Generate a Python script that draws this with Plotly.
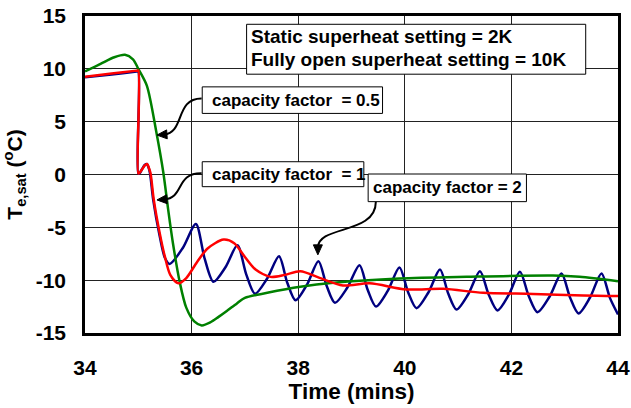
import plotly.graph_objects as go

# ---------------- data ----------------
t_cf2 = [34.0, 34.5, 34.97, 35.0, 35.0, 35.03, 35.08, 35.12, 35.16, 35.19, 35.22, 35.28, 35.4, 35.5,
         35.59, 35.835, 36.08, 36.245, 36.41, 36.635, 36.86, 37.025, 37.19,
         37.415, 37.64, 37.795, 37.95, 38.165, 38.38, 38.535, 38.69, 38.92,
         39.15, 39.305, 39.46, 39.68, 39.90, 40.06, 40.22, 40.44, 40.66,
         40.815, 40.97, 41.19, 41.41, 41.575, 41.74, 41.95, 42.16, 42.325,
         42.49, 42.715, 42.94, 43.10, 43.26, 43.475, 43.69, 43.85, 44.0]
v_cf2 = [9.2, 9.47, 9.74, 9.75, 0.1, 0.15, 0.6, 0.9, 1.0, 0.7, 0.1, -2.4, -5.8, -7.9,
         -8.46, -6.95, -4.69, -7.97, -10.16, -8.78, -6.70, -9.45, -11.29,
         -9.87, -7.74, -10.24, -11.90, -10.42, -8.20, -10.56, -12.14, -10.72,
         -8.60, -10.94, -12.50, -11.02, -8.80, -11.11, -12.65, -11.19, -9.00,
         -11.27, -12.78, -11.33, -9.15, -11.38, -12.87, -11.40, -9.20, -11.50,
         -13.03, -11.57, -9.37, -11.64, -13.15, -11.64, -9.37, -11.70, -13.25]

t_cf05 = [34.0, 34.3, 34.55, 34.75, 34.9, 35.0, 35.16, 35.34, 35.47, 35.56,
          35.65, 35.78, 35.9, 36.05, 36.19, 36.35, 36.5, 36.66, 36.85, 37.0,
          37.42, 38.04, 38.66, 39.9, 41.16, 42.78, 43.28, 44.0]
v_cf05 = [9.75, 10.5, 11.1, 11.33, 10.9, 10.0, 8.41, 3.97, 0.16, -3.3,
          -6.5, -10.25, -12.6, -13.9, -14.28, -14.0, -13.5, -12.92, -12.2, -11.67,
          -11.2, -10.63, -10.25, -9.84, -9.68, -9.56, -9.68, -10.1]

t_cf1 = [34.0, 34.5, 34.97, 35.0, 35.0, 35.03, 35.08, 35.12, 35.17, 35.2, 35.23, 35.29, 35.4, 35.5,
         35.6, 35.75, 35.9, 36.1, 36.3, 36.6, 36.8, 37.0, 37.2, 37.48,
         37.75, 38.04, 38.4, 38.84, 39.34, 40.03, 40.72, 41.47, 42.41,
         43.35, 44.0]
v_cf1 = [9.25, 9.55, 9.83, 9.84, 0.1, 0.2, 0.55, 0.85, 0.98, 0.6, 0.1, -2.38, -5.5, -7.8,
         -9.5, -10.3, -9.8, -8.3, -7.0, -6.16, -6.5, -7.8, -9.0, -9.69,
         -9.5, -9.15, -9.78, -10.5, -10.3, -10.88, -10.82, -11.2, -11.3,
         -11.45, -11.5]

x_ticks = [34, 36, 38, 40, 42, 44]
y_ticks = [-15, -10, -5, 0, 5, 10, 15]

# ---------------- layout geometry (pixels) ----------------
W, H = 631, 408
PL, PR, PT, PB = 85, 618.3, 15.7, 333.3


def px(xp):
    return (xp - PL) / (PR - PL)


def py(yp):
    return (PB - yp) / (PB - PT)


def dx(xp):
    return 34 + (xp - PL) / (PR - PL) * 10


def dy(yp):
    return -15 + (PB - yp) / (PB - PT) * 30


FONT = "Liberation Sans, Arial, sans-serif"

fig = go.Figure()
fig.add_trace(go.Scatter(x=t_cf2, y=v_cf2, mode="lines",
                         line=dict(color="#000080", width=2.5, shape="spline", smoothing=0.8),
                         name="capacity factor = 2"))
fig.add_trace(go.Scatter(x=t_cf05, y=v_cf05, mode="lines",
                         line=dict(color="#008000", width=2.5, shape="spline", smoothing=0.8),
                         name="capacity factor = 0.5"))
fig.add_trace(go.Scatter(x=t_cf1, y=v_cf1, mode="lines",
                         line=dict(color="#FF0000", width=2.5, shape="spline", smoothing=0.8),
                         name="capacity factor = 1"))

shapes = []
annotations = []

# text boxes
boxes = [
    (246.7, 24, 586, 74),
    (202.3, 86.7, 382.7, 113.3),
    (202.3, 161.7, 364, 186.7),
    (368.3, 174, 526.7, 201.7),
]
for (x0, y0, x1, y1) in boxes:
    shapes.append(dict(type="rect", xref="paper", yref="paper",
                       x0=px(x0), x1=px(x1), y0=py(y1), y1=py(y0),
                       fillcolor="white", line=dict(color="black", width=1),
                       layer="above"))

texts = [
    (250, 36.5, "Static superheat setting = 2K", 19),
    (250, 59.5, "Fully open superheat setting = 10K", 19),
    (211, 100, "capacity factor\u00a0\u00a0= 0.5", 17),
    (211, 174.5, "capacity factor\u00a0\u00a0= 1", 17),
    (372, 188, "capacity factor = 2", 17),
]
for (x0, yc, txt, fs) in texts:
    annotations.append(dict(xref="paper", yref="paper", x=px(x0), y=py(yc),
                            xanchor="left", yanchor="middle", align="left",
                            text=txt, showarrow=False, borderpad=0,
                            font=dict(family=FONT, size=fs, color="black", weight="bold")))

# curved leader lines (cubic Bezier in pixel space, converted to data) + arrow heads
curves = [
    [(201.7, 98.3), (175, 98), (185, 133), (157, 135)],
    [(201.7, 173.3), (175, 173), (185, 198), (157, 200)],
    [(376, 201.7), (376, 235), (318, 225), (318, 255)],
]
for c in curves:
    (a, b), (c1x, c1y), (c2x, c2y), (ex, ey) = c
    tx, ty = ex - c2x, ey - c2y
    n = (tx ** 2 + ty ** 2) ** 0.5
    ux, uy = tx / n, ty / n
    L, Wd = 10, 4.5
    bx, by = ex - ux * L, ey - uy * L
    path = (f"M {dx(a)},{dy(b)} C {dx(c1x)},{dy(c1y)} "
            f"{dx(c2x)},{dy(c2y)} {dx(bx + ux * 3)},{dy(by + uy * 3)}")
    shapes.append(dict(type="path", xref="x", yref="y", path=path,
                       line=dict(color="black", width=2), layer="above"))
    head = (f"M {dx(ex)},{dy(ey)} L {dx(bx - uy * Wd)},{dy(by + ux * Wd)} "
            f"L {dx(bx + uy * Wd)},{dy(by - ux * Wd)} Z")
    shapes.append(dict(type="path", xref="x", yref="y", path=head,
                       fillcolor="black", line=dict(color="black", width=1), layer="above"))

fig.update_layout(
    width=W, height=H,
    margin=dict(l=PL, r=W - PR, t=PT, b=H - PB, autoexpand=False),
    paper_bgcolor="white", plot_bgcolor="white",
    showlegend=False,
    font=dict(family=FONT, color="black", weight="bold"),
    shapes=shapes, annotations=annotations,
)
fig.update_xaxes(range=[34, 44], tickvals=x_ticks, ticktext=[str(v) for v in x_ticks],
                 automargin=False,
                 showgrid=True, gridcolor="#222222", gridwidth=1,
                 showline=True, linecolor="black", linewidth=2.5, mirror=True,
                 ticks="", ticklabelstandoff=14, zeroline=False,
                 tickfont=dict(family=FONT, size=21, color="black", weight="bold"),
                 title=dict(text="Time (mins)", standoff=4,
                            font=dict(family=FONT, size=22.5, color="black", weight="bold")))
fig.update_yaxes(range=[-15, 15], tickvals=y_ticks, ticktext=[str(v) for v in y_ticks],
                 automargin=False,
                 showgrid=True, gridcolor="#222222", gridwidth=1,
                 showline=True, linecolor="black", linewidth=2.5, mirror=True,
                 ticks="", ticklabelstandoff=12, zeroline=False,
                 tickfont=dict(family=FONT, size=21, color="black", weight="bold"),
                 title=dict(text="T<sub>e,sat</sub> (<sup>o</sup>C)", standoff=8,
                            font=dict(family=FONT, size=21, color="black", weight="bold")))

fig.write_html("out.html")
